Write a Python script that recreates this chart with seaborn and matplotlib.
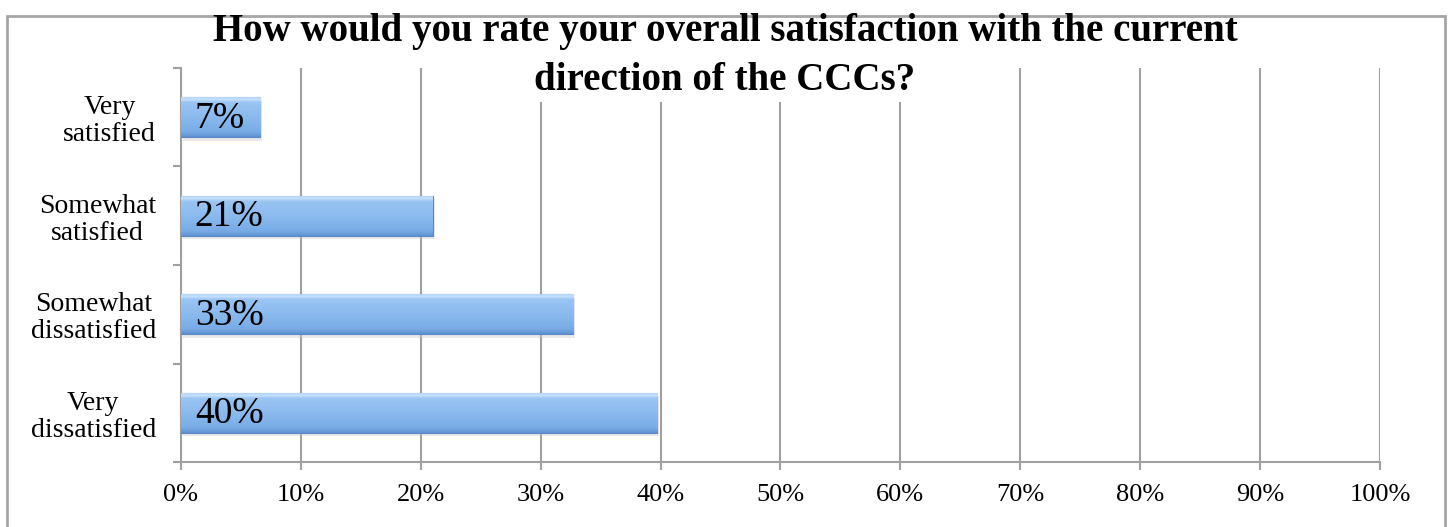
import matplotlib
matplotlib.use("Agg")
import matplotlib.pyplot as plt
import matplotlib.patches as mpatches
import matplotlib.patheffects as pe
from matplotlib.colors import LinearSegmentedColormap
import seaborn as sns
import numpy as np
import pandas as pd

# data
categories = ["Very\nsatisfied", "Somewhat\nsatisfied", "Somewhat\ndissatisfied", "Very\ndissatisfied"]
shares = [6.6, 21.0, 32.7, 39.7]
bar_labels = ["7%", "21%", "33%", "40%"]
x_ticks = list(range(0, 101, 10))
x_tick_labels = [f"{t}%" for t in x_ticks]
title_lines = ["How would you rate your overall satisfaction with the current",
               "direction of the CCCs?"]

df = pd.DataFrame({"category": categories, "share": shares})

sns.set_theme(style="white")
plt.rcParams["font.family"] = ["Liberation Serif", "DejaVu Serif"]
plt.rcParams["text.color"] = "black"
plt.rcParams["xtick.color"] = "black"
plt.rcParams["ytick.color"] = "black"

fig = plt.figure(figsize=(14.5, 5.27), dpi=100)
ax = fig.add_axes([0.1248, 0.1233, 0.8269, 0.7477])

# grey frame round the chart
fig.patches.append(mpatches.Rectangle((7 / 1450, -0.01), 1438 / 1450, 1 - 16 / 527 + 0.01,
                                      transform=fig.transFigure, fill=False,
                                      edgecolor="#a6a6a6", linewidth=2))

sns.barplot(data=df, x="share", y="category", orient="h", width=0.41,
            color="#8ab8ee", edgecolor="#5a88c4", linewidth=0.8, ax=ax, zorder=3)

# soft shadow under the bars
for p in ax.patches:
    p.set_path_effects([pe.SimplePatchShadow(offset=(1.5, -2.5), shadow_rgbFace="#c8c8c8", alpha=0.4), pe.Normal()])

# vertical blue gradient inside each bar (origin lower -> first colour at bottom)
cmap = LinearSegmentedColormap.from_list(
    "bevel", [(0.0, "#5f91d0"), (0.12, "#78abe6"), (0.5, "#8bbaee"),
              (0.85, "#9ac5f3"), (0.92, "#c6e1fb"), (1.0, "#acd0f4")])
grad = np.linspace(0, 1, 128).reshape(-1, 1)
for p in ax.patches:
    bb = p.get_bbox()
    im = ax.imshow(grad, cmap=cmap, aspect="auto", origin="lower",
                   extent=[bb.x0, bb.x1, bb.y1, bb.y0], zorder=3.5)
    im.set_clip_path(p)

for p, lab in zip(ax.patches, bar_labels):
    ax.annotate(lab, (0, p.get_y() + p.get_height() / 2), xytext=(10, -1),
                textcoords="offset points", ha="left", va="center",
                fontsize=27, color="black", zorder=5)

ax.set_xlim(0, 100)
ax.set_ylim(3.5, -0.5)
ax.set_xticks(x_ticks)
ax.set_xticklabels(x_tick_labels, fontsize=19)
ax.set_yticks(range(len(categories)))
ax.set_yticklabels(categories, fontsize=20, multialignment="center", linespacing=1.1)
ax.set_yticks(np.arange(-0.5, len(categories), 1), minor=True)
ax.tick_params(axis="y", which="major", length=0, pad=18)
ax.tick_params(axis="y", which="minor", length=6, width=1.5, color="#a0a0a0", direction="out", left=True)
ax.tick_params(axis="x", length=6, width=1.5, color="#a0a0a0", direction="out", bottom=True, pad=10)
ax.set_xlabel("")
ax.set_ylabel("")

ax.grid(axis="x", color="#a0a0a0", linewidth=1.5, zorder=0)
ax.set_axisbelow(True)
for side in ["top", "right"]:
    ax.spines[side].set_visible(False)
for side in ["left", "bottom"]:
    ax.spines[side].set_color("#a0a0a0")
    ax.spines[side].set_linewidth(1.5)

# two-line title; the second line sits over the gridlines on a white box
fig.text(0.5, 1 - 32 / 527, title_lines[0], ha="center", va="center", fontsize=28,
         fontweight="bold", zorder=10)
fig.text(0.5, 1 - 81 / 527, title_lines[1], ha="center", va="center", fontsize=28,
         fontweight="bold", zorder=10,
         bbox=dict(facecolor="white", edgecolor="none", pad=2))

fig.savefig("out.png", dpi=100)
